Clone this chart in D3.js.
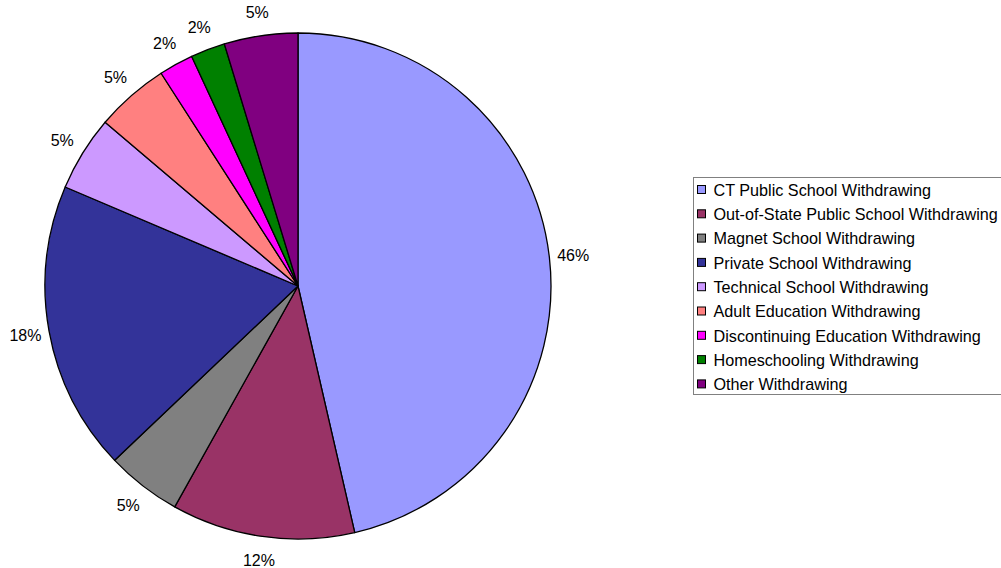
<!DOCTYPE html>
<html><head><meta charset="utf-8">
<script src="https://cdn.jsdelivr.net/npm/d3@7"></script>
<style>body{margin:0;background:#fff}svg{display:block}</style>
</head><body>
<svg id="c" width="1001" height="568"></svg>
<script>
const categories = ["CT Public School Withdrawing","Out-of-State Public School Withdrawing","Magnet School Withdrawing","Private School Withdrawing","Technical School Withdrawing","Adult Education Withdrawing","Discontinuing Education Withdrawing","Homeschooling Withdrawing","Other Withdrawing"];
const values = [46.4, 11.7, 4.8, 18.5, 4.8, 4.7, 2.2, 2.2, 4.7];
const labels = ["46%","12%","5%","18%","5%","5%","2%","2%","5%"];
const colors = ["#9999FF","#993366","#808080","#333399","#CC99FF","#FF8080","#FF00FF","#008000","#800080"];

const svg = d3.select("#c");
const cx = 298, cy = 286, r = 253;
const font = "Liberation Sans, Arial, sans-serif";
const pie = d3.pie().sort(null).value(d => d.v);
const arcs = pie(categories.map((c,i)=>({c, v: values[i], i})));
const arc = d3.arc().innerRadius(0).outerRadius(r);
const g = svg.append("g").attr("transform", `translate(${cx},${cy})`);
g.selectAll("path").data(arcs).join("path")
  .attr("d", arc).attr("fill", d => colors[d.data.i])
  .attr("stroke", "#000").attr("stroke-width", 1.3).attr("stroke-linejoin","round");
const lr = 277;
g.selectAll("text").data(arcs).join("text")
  .attr("x", d => Math.sin((d.startAngle+d.endAngle)/2)*lr)
  .attr("y", d => -Math.cos((d.startAngle+d.endAngle)/2)*lr)
  .attr("dy","0.36em").attr("text-anchor","middle")
  .attr("font-family", font).attr("font-size", 16).attr("fill","#000")
  .text(d => labels[d.data.i]);

// legend
const lx = 693, ly = 177, lh = 217, step = 24.3;
svg.append("rect").attr("x", lx+0.5).attr("y", ly+0.5).attr("width", 340).attr("height", lh)
  .attr("fill","#fff").attr("stroke","#808080").attr("stroke-width",1);
const items = svg.selectAll("g.li").data(categories).join("g").attr("class","li")
  .attr("transform", (d,i)=>`translate(${lx},${ly+13+i*step})`);
items.append("rect").attr("x",4.5).attr("y",-4.5).attr("width",8).attr("height",8)
  .attr("fill",(d,i)=>colors[i]).attr("stroke","#000").attr("stroke-width",1);
items.append("text").attr("x",20.5).attr("dy","0.36em")
  .attr("font-family", font).attr("font-size", 16.2).attr("fill","#000").text(d=>d);
</script>
</body></html>
